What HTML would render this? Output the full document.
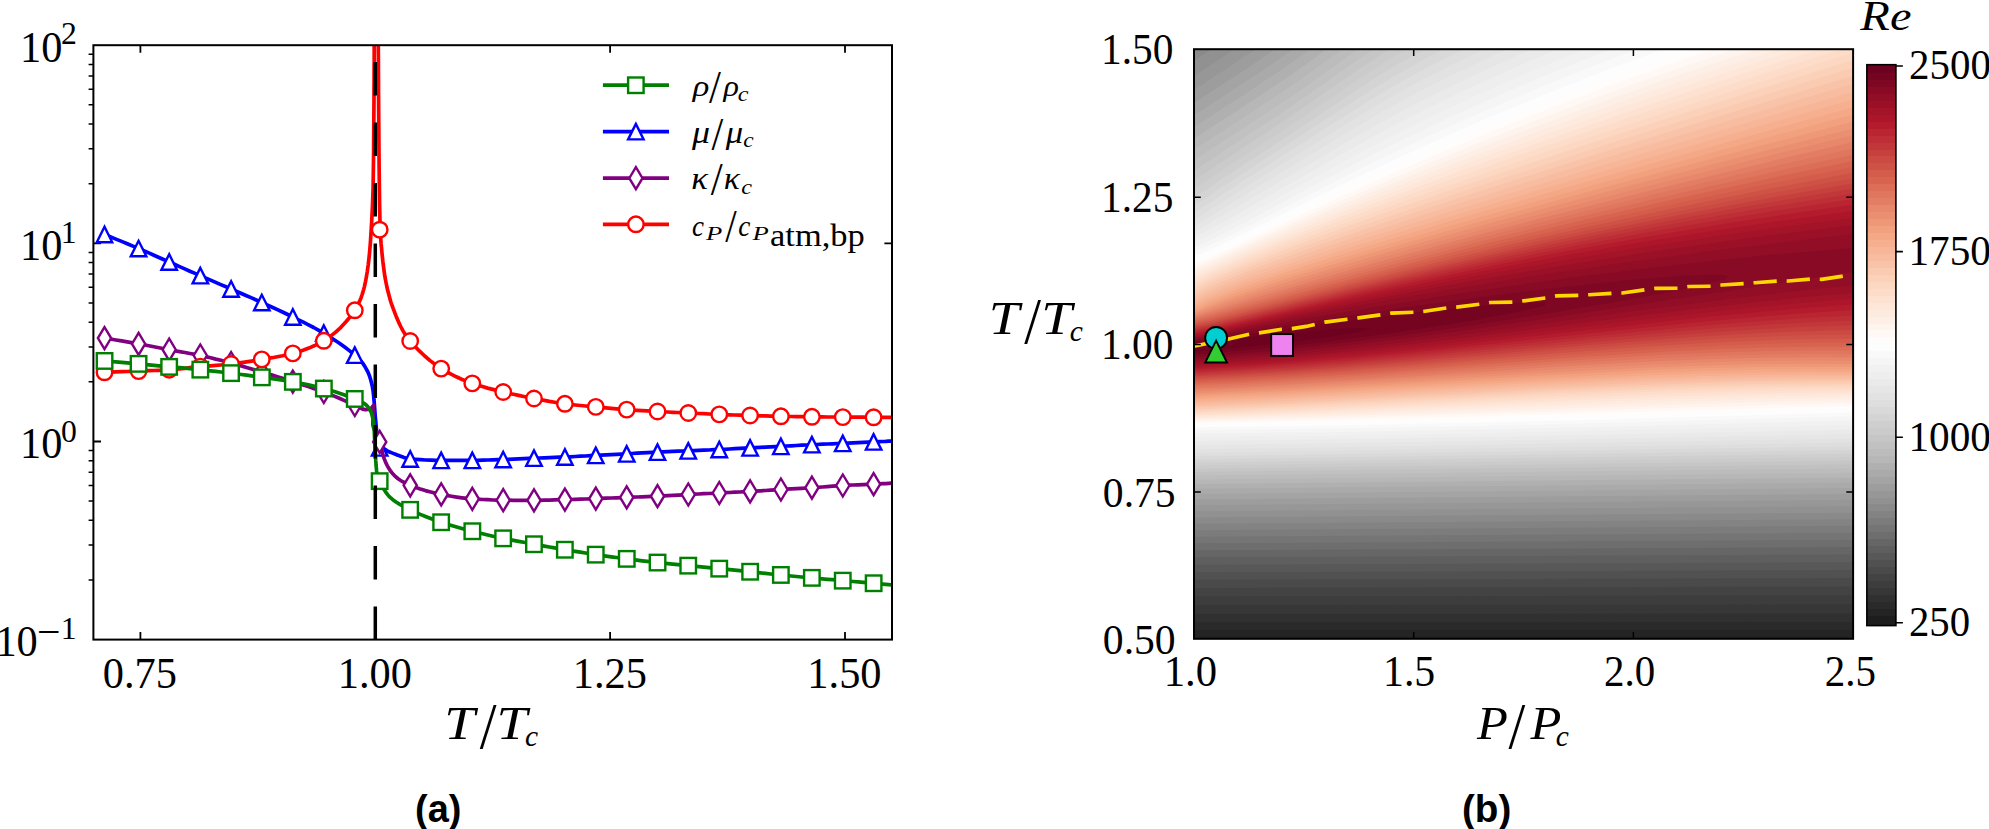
<!DOCTYPE html>
<html><head><meta charset="utf-8"><title>Figure</title>
<style>html,body{margin:0;padding:0;background:#fff}body{width:1989px;height:829px;overflow:hidden}</style></head>
<body>
<svg width="1989" height="829" viewBox="0 0 1989 829" style="display:block">
<rect width="1989" height="829" fill="#fff"/>
<defs><clipPath id="ca"><rect x="93.4" y="45.2" width="798.6" height="594.4"/></clipPath>
<clipPath id="cbp"><rect x="1194.0" y="49.2" width="659.1" height="589.6"/></clipPath>
</defs>
<g stroke="#000" stroke-width="2" fill="none">
<path d="M140.4 639.6v-7.6M140.4 45.2v7.6M375.2 639.6v-7.6M375.2 45.2v7.6M610.1 639.6v-7.6M610.1 45.2v7.6M845.0 639.6v-7.6M845.0 45.2v7.6M93.4 441.5h7.6M892.0 441.5h-7.6M93.4 243.3h7.6M892.0 243.3h-7.6" stroke-width="1.8"/>
<path d="M93.4 580.0h-4.8M93.4 545.1h-4.8M93.4 520.3h-4.8M93.4 501.1h-4.8M93.4 485.4h-4.8M93.4 472.2h-4.8M93.4 460.7h-4.8M93.4 450.5h-4.8M93.4 381.8h-4.8M93.4 346.9h-4.8M93.4 322.2h-4.8M93.4 303.0h-4.8M93.4 287.3h-4.8M93.4 274.0h-4.8M93.4 262.5h-4.8M93.4 252.4h-4.8M93.4 183.7h-4.8M93.4 148.8h-4.8M93.4 124.0h-4.8M93.4 104.8h-4.8M93.4 89.2h-4.8M93.4 75.9h-4.8M93.4 64.4h-4.8M93.4 54.3h-4.8" stroke-width="1.5"/>
</g>
<g clip-path="url(#ca)" fill="none" stroke-width="3.7" stroke-linejoin="round">
<path d="M104.5 234.6 L110.2 236.8 L115.9 239.1 L121.6 241.4 L127.3 243.8 L132.9 246.1 L138.6 248.5 L143.7 250.7 L148.8 252.9 L153.9 255.2 L159.0 257.5 L164.1 259.7 L169.2 262.0 L174.4 264.3 L179.6 266.6 L184.7 268.9 L189.9 271.2 L195.1 273.4 L200.3 275.7 L205.4 277.9 L210.6 280.1 L215.7 282.4 L220.8 284.6 L226.0 286.8 L231.1 289.0 L236.2 291.2 L241.4 293.5 L246.5 295.7 L251.6 297.9 L256.7 300.2 L261.8 302.5 L267.0 304.9 L272.2 307.2 L277.4 309.6 L282.5 312.0 L287.7 314.5 L292.8 317.0 L298.0 319.6 L303.3 322.2 L308.5 324.8 L313.7 327.5 L318.8 330.3 L323.8 333.2 L329.2 336.5 L334.5 340.0 L339.8 343.5 L345.0 347.3 L350.0 351.1 L354.8 355.2 L356.3 356.6 L357.9 358.0 L359.4 359.5 L360.8 361.0 L362.2 362.6 L363.4 364.2 L364.7 366.2 L365.9 368.3 L367.1 370.5 L368.2 372.7 L369.1 374.9 L369.9 377.2 L370.6 379.4 L371.2 381.7 L371.8 384.0 L372.3 386.3 L372.7 388.7 L373.1 391.0 L373.4 393.7 L373.7 396.5 L373.9 399.3 L374.2 402.1 L374.4 404.8 L374.6 407.6 L374.8 410.2 L375.0 412.9 L375.2 415.5 L375.4 418.1 L375.7 420.8 L375.9 423.4 L376.1 425.5 L376.3 427.6 L376.5 429.8 L376.7 431.9 L377.0 433.9 L377.3 436.0 L377.6 437.5 L378.0 439.0 L378.6 440.4 L379.2 441.8 L379.8 443.2 L380.5 444.5 L381.1 445.5 L381.9 446.4 L382.7 447.3 L383.6 448.2 L384.5 449.0 L385.4 449.7 L386.9 450.6 L388.5 451.5 L390.2 452.2 L392.0 452.9 L393.8 453.6 L395.5 454.3 L397.2 455.0 L398.9 455.6 L400.6 456.2 L402.3 456.8 L404.0 457.4 L405.7 457.9 L406.4 458.1 L407.2 458.3 L407.9 458.6 L408.7 458.7 L409.4 458.9 L410.2 459.0 L415.3 459.4 L420.5 459.7 L425.6 460.0 L430.8 460.2 L436.0 460.3 L441.2 460.3 L446.4 460.3 L451.6 460.3 L456.7 460.3 L461.9 460.3 L467.1 460.3 L472.3 460.3 L477.5 460.3 L482.6 460.2 L487.8 460.0 L492.9 459.9 L498.1 459.7 L503.2 459.5 L508.3 459.3 L513.5 459.1 L518.6 458.9 L523.7 458.6 L528.9 458.4 L534.0 458.2 L539.1 458.0 L544.3 457.8 L549.5 457.6 L554.6 457.4 L559.8 457.2 L564.9 457.0 L570.1 456.8 L575.2 456.5 L580.4 456.2 L585.5 456.0 L590.7 455.7 L595.8 455.4 L601.0 455.1 L606.1 454.9 L611.3 454.6 L616.4 454.3 L621.6 454.1 L626.7 453.8 L631.8 453.5 L637.0 453.2 L642.1 452.9 L647.2 452.6 L652.4 452.4 L657.5 452.1 L662.6 451.9 L667.8 451.6 L672.9 451.4 L678.0 451.2 L683.2 451.0 L688.3 450.8 L693.5 450.6 L698.6 450.4 L703.8 450.2 L709.0 450.0 L714.1 449.7 L719.3 449.5 L724.4 449.3 L729.6 449.0 L734.7 448.7 L739.8 448.4 L745.0 448.2 L750.1 447.9 L755.2 447.6 L760.4 447.4 L765.5 447.1 L770.6 446.8 L775.8 446.6 L780.9 446.3 L786.1 446.0 L791.2 445.8 L796.4 445.5 L801.6 445.2 L806.7 445.0 L811.9 444.7 L817.0 444.5 L822.2 444.2 L827.3 444.0 L832.5 443.8 L837.6 443.5 L842.8 443.3 L847.9 443.1 L853.1 442.8 L858.2 442.6 L863.3 442.4 L868.5 442.1 L873.6 441.9 L876.6 441.8 L879.7 441.6 L882.7 441.5 L885.7 441.4 L888.8 441.2 L891.8 441.1" stroke="#0000ff"/>
<g fill="#fff" stroke="#0000ff" stroke-width="2.40" stroke-linejoin="miter">
<path d="M104.5 226.8L96.8 242.3L112.2 242.3Z"/>
<path d="M138.6 240.8L130.8 256.2L146.3 256.2Z"/>
<path d="M169.2 254.2L161.4 269.8L176.9 269.8Z"/>
<path d="M200.3 267.9L192.6 283.4L208.1 283.4Z"/>
<path d="M231.1 281.2L223.3 296.8L238.8 296.8Z"/>
<path d="M261.8 294.8L254.1 310.2L269.6 310.2Z"/>
<path d="M292.8 309.2L285.1 324.8L300.6 324.8Z"/>
<path d="M323.8 325.4L316.1 340.9L331.6 340.9Z"/>
<path d="M354.8 347.4L347.0 362.9L362.5 362.9Z"/>
<path d="M379.7 440.1L371.9 455.6L387.4 455.6Z"/>
<path d="M410.2 451.2L402.4 466.8L417.9 466.8Z"/>
<path d="M441.2 452.6L433.4 468.1L448.9 468.1Z"/>
<path d="M472.3 452.6L464.6 468.1L480.1 468.1Z"/>
<path d="M503.2 451.8L495.4 467.2L510.9 467.2Z"/>
<path d="M534.0 450.4L526.2 465.9L541.8 465.9Z"/>
<path d="M564.9 449.2L557.1 464.8L572.6 464.8Z"/>
<path d="M595.8 447.6L588.0 463.1L603.5 463.1Z"/>
<path d="M626.7 446.1L619.0 461.6L634.5 461.6Z"/>
<path d="M657.5 444.4L649.8 459.9L665.2 459.9Z"/>
<path d="M688.3 443.1L680.5 458.6L696.0 458.6Z"/>
<path d="M719.3 441.8L711.5 457.2L727.0 457.2Z"/>
<path d="M750.1 440.1L742.4 455.6L757.9 455.6Z"/>
<path d="M780.9 438.6L773.1 454.1L788.6 454.1Z"/>
<path d="M811.9 436.9L804.1 452.4L819.6 452.4Z"/>
<path d="M842.8 435.6L835.0 451.1L850.5 451.1Z"/>
<path d="M873.6 434.1L865.9 449.6L881.4 449.6Z"/>
</g>
<path d="M104.5 338.1 L110.2 339.0 L115.9 340.0 L121.6 340.9 L127.2 341.9 L132.9 342.9 L138.6 343.9 L143.7 344.8 L148.8 345.8 L153.9 346.8 L159.0 347.8 L164.1 348.7 L169.2 349.7 L174.4 350.7 L179.6 351.6 L184.8 352.5 L190.0 353.5 L195.1 354.4 L200.3 355.5 L205.5 356.6 L210.6 357.8 L215.7 359.1 L220.9 360.3 L226.0 361.7 L231.1 363.0 L236.2 364.4 L241.4 365.9 L246.5 367.4 L251.6 368.9 L256.7 370.5 L261.8 372.0 L267.0 373.6 L272.2 375.1 L277.3 376.7 L282.5 378.3 L287.6 380.0 L292.8 381.6 L298.0 383.3 L303.2 384.9 L308.4 386.6 L313.5 388.4 L318.7 390.1 L323.8 392.0 L329.0 394.0 L334.2 396.1 L339.3 398.3 L344.5 400.6 L349.6 402.8 L354.8 405.0 L356.5 405.9 L358.3 406.9 L360.1 407.9 L361.8 408.7 L363.7 409.4 L365.5 409.6 L366.3 409.6 L367.1 409.5 L368.0 409.4 L368.8 409.3 L369.6 409.2 L370.3 409.0 L371.0 408.6 L371.7 407.9 L372.4 407.0 L373.0 406.2 L373.4 405.5 L373.6 405.3 L373.6 405.6 L373.5 406.5 L373.3 407.8 L373.2 409.3 L373.1 410.7 L373.0 412.0 L373.0 414.0 L372.9 416.0 L372.9 418.0 L372.9 420.0 L372.9 422.0 L372.9 424.0 L373.0 425.4 L373.3 426.7 L373.7 428.0 L374.2 429.4 L374.7 430.7 L375.2 432.0 L375.9 433.6 L376.6 435.2 L377.5 436.8 L378.3 438.4 L379.1 440.0 L379.7 441.6 L380.3 443.8 L380.9 446.0 L381.4 448.3 L381.9 450.5 L382.4 452.8 L383.0 455.0 L383.7 457.1 L384.4 459.1 L385.2 461.2 L386.1 463.2 L387.0 465.1 L388.0 467.0 L389.1 468.8 L390.3 470.6 L391.6 472.4 L393.0 474.0 L394.5 475.6 L396.0 477.0 L398.1 478.7 L400.3 480.2 L402.7 481.7 L405.2 483.0 L407.7 484.2 L410.2 485.3 L415.1 487.2 L420.2 489.0 L425.4 490.6 L430.7 492.0 L435.9 493.3 L441.2 494.4 L446.3 495.4 L451.5 496.3 L456.7 497.1 L461.9 497.8 L467.1 498.4 L472.3 498.8 L477.4 499.1 L482.6 499.5 L487.7 499.7 L492.9 500.0 L498.0 500.1 L503.2 500.2 L508.3 500.2 L513.5 500.3 L518.6 500.3 L523.7 500.3 L528.9 500.3 L534.0 500.3 L539.2 500.3 L544.3 500.2 L549.5 500.1 L554.6 499.9 L559.8 499.7 L564.9 499.6 L570.1 499.5 L575.2 499.3 L580.4 499.1 L585.5 499.0 L590.7 498.8 L595.8 498.6 L601.0 498.4 L606.1 498.2 L611.3 498.0 L616.4 497.8 L621.6 497.6 L626.7 497.4 L631.8 497.2 L637.0 497.0 L642.1 496.8 L647.2 496.6 L652.4 496.4 L657.5 496.2 L662.6 495.9 L667.8 495.7 L672.9 495.4 L678.0 495.1 L683.2 494.8 L688.3 494.5 L693.5 494.2 L698.6 494.0 L703.8 493.7 L709.0 493.5 L714.1 493.3 L719.3 493.0 L724.4 492.7 L729.6 492.5 L734.7 492.2 L739.8 492.0 L745.0 491.7 L750.1 491.4 L755.2 491.1 L760.4 490.8 L765.5 490.5 L770.6 490.1 L775.8 489.8 L780.9 489.5 L786.1 489.2 L791.2 488.9 L796.4 488.6 L801.6 488.3 L806.7 488.0 L811.9 487.7 L817.1 487.3 L822.2 487.0 L827.3 486.6 L832.5 486.2 L837.6 485.8 L842.8 485.5 L847.9 485.2 L853.1 485.0 L858.2 484.8 L863.3 484.6 L868.5 484.4 L873.6 484.2 L876.6 484.0 L879.7 483.9 L882.7 483.7 L885.7 483.6 L888.8 483.4 L891.8 483.2" stroke="#800080"/>
<g fill="#fff" stroke="#800080" stroke-width="2.40" stroke-linejoin="miter">
<path d="M104.5 327.1L111.1 338.1L104.5 349.1L97.9 338.1Z"/>
<path d="M138.6 332.9L145.2 343.9L138.6 354.9L132.0 343.9Z"/>
<path d="M169.2 338.7L175.8 349.7L169.2 360.7L162.6 349.7Z"/>
<path d="M200.3 344.5L206.9 355.5L200.3 366.5L193.7 355.5Z"/>
<path d="M231.1 352.0L237.7 363.0L231.1 374.0L224.5 363.0Z"/>
<path d="M261.8 361.0L268.4 372.0L261.8 383.0L255.2 372.0Z"/>
<path d="M292.8 370.6L299.4 381.6L292.8 392.6L286.2 381.6Z"/>
<path d="M323.8 381.0L330.4 392.0L323.8 403.0L317.2 392.0Z"/>
<path d="M354.8 394.0L361.3 405.0L354.8 416.0L348.2 405.0Z"/>
<path d="M379.7 430.9L386.3 441.9L379.7 452.9L373.1 441.9Z"/>
<path d="M410.2 474.3L416.8 485.3L410.2 496.3L403.6 485.3Z"/>
<path d="M441.2 483.4L447.8 494.4L441.2 505.4L434.6 494.4Z"/>
<path d="M472.3 487.8L478.9 498.8L472.3 509.8L465.7 498.8Z"/>
<path d="M503.2 489.2L509.8 500.2L503.2 511.2L496.6 500.2Z"/>
<path d="M534.0 489.3L540.6 500.3L534.0 511.3L527.4 500.3Z"/>
<path d="M564.9 488.6L571.5 499.6L564.9 510.6L558.3 499.6Z"/>
<path d="M595.8 487.6L602.4 498.6L595.8 509.6L589.2 498.6Z"/>
<path d="M626.7 486.4L633.3 497.4L626.7 508.4L620.1 497.4Z"/>
<path d="M657.5 485.2L664.1 496.2L657.5 507.2L650.9 496.2Z"/>
<path d="M688.3 483.5L694.9 494.5L688.3 505.5L681.7 494.5Z"/>
<path d="M719.3 482.0L725.9 493.0L719.3 504.0L712.7 493.0Z"/>
<path d="M750.1 480.4L756.7 491.4L750.1 502.4L743.5 491.4Z"/>
<path d="M780.9 478.5L787.5 489.5L780.9 500.5L774.3 489.5Z"/>
<path d="M811.9 476.7L818.5 487.7L811.9 498.7L805.3 487.7Z"/>
<path d="M842.8 474.5L849.4 485.5L842.8 496.5L836.2 485.5Z"/>
<path d="M873.6 473.2L880.2 484.2L873.6 495.2L867.0 484.2Z"/>
</g>
<path d="M104.5 372.3 L110.2 372.1 L115.9 371.9 L121.6 371.7 L127.2 371.5 L132.9 371.3 L138.6 371.1 L143.7 370.9 L148.8 370.7 L153.9 370.5 L159.0 370.3 L164.1 370.0 L169.2 369.7 L174.4 369.3 L179.6 368.8 L184.8 368.3 L189.9 367.7 L195.1 367.1 L200.3 366.6 L205.4 366.2 L210.6 365.8 L215.7 365.4 L220.8 365.0 L226.0 364.5 L231.1 364.0 L236.2 363.4 L241.4 362.7 L246.5 361.9 L251.6 361.1 L256.7 360.3 L261.8 359.4 L267.0 358.5 L272.2 357.7 L277.4 356.7 L282.6 355.7 L287.7 354.6 L292.8 353.4 L298.2 351.9 L303.6 350.1 L308.9 348.1 L314.1 345.8 L319.1 343.4 L323.8 340.8 L329.6 336.9 L335.4 332.4 L340.9 327.3 L346.0 321.8 L350.7 316.1 L354.8 310.3 L356.2 308.0 L357.5 305.5 L358.8 302.9 L360.0 300.3 L361.1 297.7 L362.0 295.0 L362.8 292.4 L363.6 289.8 L364.3 287.1 L364.9 284.4 L365.5 281.7 L366.0 279.0 L366.6 275.5 L367.2 272.0 L367.7 268.5 L368.2 265.0 L368.6 261.5 L369.0 258.0 L369.5 253.3 L369.9 248.6 L370.3 243.9 L370.6 239.1 L370.9 234.4 L371.2 229.7 L371.7 221.4 L372.1 213.1 L372.5 204.9 L372.8 196.6 L373.1 188.3 L373.2 180.0 L373.4 166.7 L373.6 153.3 L373.7 140.0 L373.8 126.7 L373.9 113.3 L374.0 100.0 L374.0 90.0 L374.1 80.0 L374.1 70.0 L374.2 60.0 L374.2 50.0 L374.2 40.0" stroke="#ff0000"/>
<path d="M378.3 40.0 L378.3 50.0 L378.4 60.0 L378.4 70.0 L378.5 80.0 L378.5 90.0 L378.6 100.0 L378.7 113.3 L378.8 126.7 L378.9 140.0 L379.0 153.3 L379.1 166.7 L379.3 180.0 L379.4 188.3 L379.5 196.6 L379.6 204.9 L379.8 213.1 L380.0 221.4 L380.2 229.7 L380.5 234.4 L380.8 239.1 L381.1 243.9 L381.6 248.6 L382.0 253.3 L382.5 258.0 L382.9 261.8 L383.4 265.7 L383.9 269.5 L384.4 273.4 L385.0 277.2 L385.7 281.0 L386.3 284.0 L386.9 287.0 L387.6 290.1 L388.4 293.1 L389.2 296.0 L390.0 299.0 L390.7 301.5 L391.5 303.9 L392.4 306.4 L393.3 308.8 L394.2 311.2 L395.1 313.6 L396.1 316.2 L397.2 318.8 L398.3 321.4 L399.5 324.0 L400.7 326.5 L402.0 329.0 L403.2 331.1 L404.5 333.2 L405.8 335.2 L407.2 337.2 L408.7 339.1 L410.2 341.0 L414.7 346.1 L419.6 351.2 L424.7 356.0 L430.1 360.6 L435.6 364.8 L441.2 368.6 L446.0 371.5 L451.1 374.2 L456.3 376.8 L461.6 379.2 L466.9 381.4 L472.3 383.4 L477.3 385.1 L482.4 386.6 L487.6 388.1 L492.8 389.4 L498.0 390.7 L503.2 392.0 L508.3 393.2 L513.4 394.3 L518.6 395.4 L523.7 396.5 L528.8 397.5 L534.0 398.5 L539.1 399.5 L544.3 400.4 L549.4 401.4 L554.6 402.3 L559.7 403.1 L564.9 403.8 L570.0 404.4 L575.2 405.0 L580.3 405.5 L585.5 406.0 L590.6 406.4 L595.8 406.9 L600.9 407.4 L606.1 407.9 L611.2 408.3 L616.4 408.8 L621.5 409.2 L626.7 409.6 L631.8 410.0 L637.0 410.3 L642.1 410.6 L647.2 410.9 L652.4 411.2 L657.5 411.5 L662.6 411.8 L667.8 412.0 L672.9 412.3 L678.0 412.5 L683.2 412.8 L688.3 413.0 L693.5 413.2 L698.6 413.5 L703.8 413.7 L709.0 414.0 L714.1 414.2 L719.3 414.4 L724.4 414.6 L729.6 414.8 L734.7 415.0 L739.8 415.2 L745.0 415.3 L750.1 415.5 L755.2 415.7 L760.4 415.8 L765.5 415.9 L770.6 416.1 L775.8 416.2 L780.9 416.3 L786.1 416.4 L791.2 416.5 L796.4 416.6 L801.6 416.7 L806.7 416.7 L811.9 416.8 L817.0 416.9 L822.2 416.9 L827.3 417.0 L832.5 417.0 L837.6 417.1 L842.8 417.1 L847.9 417.1 L853.1 417.2 L858.2 417.2 L863.3 417.2 L868.5 417.3 L873.6 417.3 L876.6 417.3 L879.7 417.3 L882.7 417.4 L885.7 417.4 L888.8 417.4 L891.8 417.4" stroke="#ff0000"/>
<g fill="#fff" stroke="#ff0000" stroke-width="2.40" stroke-linejoin="miter">
<circle cx="104.5" cy="372.3" r="7.75"/>
<circle cx="138.6" cy="371.1" r="7.75"/>
<circle cx="169.2" cy="369.7" r="7.75"/>
<circle cx="200.3" cy="366.6" r="7.75"/>
<circle cx="231.1" cy="364.0" r="7.75"/>
<circle cx="261.8" cy="359.4" r="7.75"/>
<circle cx="292.8" cy="353.4" r="7.75"/>
<circle cx="323.8" cy="340.8" r="7.75"/>
<circle cx="354.8" cy="310.3" r="7.75"/>
<circle cx="379.7" cy="229.7" r="7.75"/>
<circle cx="410.2" cy="341.0" r="7.75"/>
<circle cx="441.2" cy="368.6" r="7.75"/>
<circle cx="472.3" cy="383.4" r="7.75"/>
<circle cx="503.2" cy="392.0" r="7.75"/>
<circle cx="534.0" cy="398.5" r="7.75"/>
<circle cx="564.9" cy="403.8" r="7.75"/>
<circle cx="595.8" cy="406.9" r="7.75"/>
<circle cx="626.7" cy="409.6" r="7.75"/>
<circle cx="657.5" cy="411.5" r="7.75"/>
<circle cx="688.3" cy="413.0" r="7.75"/>
<circle cx="719.3" cy="414.4" r="7.75"/>
<circle cx="750.1" cy="415.5" r="7.75"/>
<circle cx="780.9" cy="416.3" r="7.75"/>
<circle cx="811.9" cy="416.8" r="7.75"/>
<circle cx="842.8" cy="417.1" r="7.75"/>
<circle cx="873.6" cy="417.3" r="7.75"/>
</g>
<path d="M104.5 361.0 L110.2 361.5 L115.9 361.9 L121.6 362.4 L127.2 362.9 L132.9 363.4 L138.6 363.9 L143.7 364.4 L148.8 364.8 L153.9 365.3 L159.0 365.8 L164.1 366.3 L169.2 366.8 L174.4 367.3 L179.6 367.7 L184.8 368.2 L189.9 368.7 L195.1 369.2 L200.3 369.7 L205.4 370.2 L210.6 370.8 L215.7 371.4 L220.8 372.0 L226.0 372.6 L231.1 373.2 L236.2 373.8 L241.3 374.5 L246.5 375.2 L251.6 375.9 L256.7 376.6 L261.8 377.3 L267.0 378.0 L272.2 378.7 L277.3 379.4 L282.5 380.2 L287.7 380.9 L292.8 381.8 L298.0 382.7 L303.2 383.7 L308.4 384.8 L313.6 386.0 L318.7 387.2 L323.8 388.5 L329.0 390.0 L334.3 391.5 L339.5 393.2 L344.6 395.0 L349.7 397.0 L354.8 399.0 L356.6 399.8 L358.5 400.6 L360.4 401.4 L362.3 402.3 L364.0 403.3 L365.5 404.4 L366.6 405.4 L367.7 406.6 L368.7 407.9 L369.6 409.2 L370.4 410.6 L371.0 412.0 L371.6 413.7 L372.1 415.5 L372.6 417.4 L373.0 419.2 L373.4 421.1 L373.6 423.0 L373.9 425.8 L374.1 428.6 L374.3 431.5 L374.4 434.3 L374.5 437.2 L374.7 440.0 L374.9 443.0 L375.0 446.0 L375.1 449.0 L375.3 452.0 L375.4 455.0 L375.6 458.0 L375.7 460.2 L375.9 462.4 L376.0 464.5 L376.2 466.7 L376.4 468.9 L376.6 471.0 L376.9 472.7 L377.3 474.5 L377.8 476.2 L378.4 477.9 L379.1 479.6 L379.7 481.2 L380.2 482.5 L380.8 483.7 L381.4 484.9 L382.1 486.1 L382.8 487.3 L383.5 488.5 L384.4 490.0 L385.4 491.6 L386.5 493.1 L387.6 494.6 L388.7 495.9 L389.9 497.2 L392.8 499.7 L396.0 502.0 L399.4 504.1 L403.0 506.1 L406.6 508.0 L410.2 509.8 L415.2 512.2 L420.3 514.4 L425.5 516.5 L430.7 518.5 L435.9 520.4 L441.2 522.2 L446.3 523.9 L451.5 525.5 L456.7 527.0 L461.9 528.5 L467.1 529.9 L472.3 531.3 L477.4 532.6 L482.6 533.8 L487.7 535.0 L492.9 536.2 L498.0 537.3 L503.2 538.4 L508.3 539.4 L513.4 540.4 L518.6 541.4 L523.7 542.3 L528.9 543.3 L534.0 544.2 L539.1 545.1 L544.3 546.1 L549.4 547.0 L554.6 547.9 L559.7 548.8 L564.9 549.7 L570.0 550.6 L575.2 551.4 L580.3 552.2 L585.5 553.0 L590.6 553.8 L595.8 554.6 L600.9 555.4 L606.1 556.1 L611.2 556.8 L616.4 557.5 L621.5 558.2 L626.7 558.9 L631.8 559.5 L637.0 560.2 L642.1 560.8 L647.2 561.4 L652.4 561.9 L657.5 562.5 L662.6 563.0 L667.8 563.6 L672.9 564.1 L678.0 564.6 L683.2 565.1 L688.3 565.6 L693.5 566.1 L698.6 566.6 L703.8 567.1 L709.0 567.6 L714.1 568.1 L719.3 568.6 L724.4 569.1 L729.6 569.7 L734.7 570.2 L739.8 570.7 L745.0 571.3 L750.1 571.8 L755.2 572.3 L760.4 572.9 L765.5 573.4 L770.6 574.0 L775.8 574.5 L780.9 575.0 L786.1 575.5 L791.2 576.0 L796.4 576.5 L801.6 577.0 L806.7 577.4 L811.9 577.9 L817.0 578.4 L822.2 578.8 L827.3 579.3 L832.5 579.7 L837.6 580.2 L842.8 580.6 L847.9 581.0 L853.1 581.5 L858.2 581.9 L863.3 582.3 L868.5 582.7 L873.6 583.2 L876.6 583.5 L879.7 583.8 L882.7 584.1 L885.7 584.4 L888.8 584.7 L891.8 585.0" stroke="#008000"/>
<g fill="#fff" stroke="#008000" stroke-width="2.40" stroke-linejoin="miter">
<rect x="96.8" y="353.2" width="15.5" height="15.5"/>
<rect x="130.8" y="356.1" width="15.5" height="15.5"/>
<rect x="161.4" y="359.1" width="15.5" height="15.5"/>
<rect x="192.6" y="361.9" width="15.5" height="15.5"/>
<rect x="223.3" y="365.4" width="15.5" height="15.5"/>
<rect x="254.1" y="369.6" width="15.5" height="15.5"/>
<rect x="285.1" y="374.1" width="15.5" height="15.5"/>
<rect x="316.1" y="380.8" width="15.5" height="15.5"/>
<rect x="347.0" y="391.2" width="15.5" height="15.5"/>
<rect x="371.9" y="473.4" width="15.5" height="15.5"/>
<rect x="402.4" y="502.1" width="15.5" height="15.5"/>
<rect x="433.4" y="514.5" width="15.5" height="15.5"/>
<rect x="464.6" y="523.5" width="15.5" height="15.5"/>
<rect x="495.4" y="530.6" width="15.5" height="15.5"/>
<rect x="526.2" y="536.5" width="15.5" height="15.5"/>
<rect x="557.1" y="542.0" width="15.5" height="15.5"/>
<rect x="588.0" y="546.9" width="15.5" height="15.5"/>
<rect x="619.0" y="551.1" width="15.5" height="15.5"/>
<rect x="649.8" y="554.8" width="15.5" height="15.5"/>
<rect x="680.5" y="557.9" width="15.5" height="15.5"/>
<rect x="711.5" y="560.9" width="15.5" height="15.5"/>
<rect x="742.4" y="564.0" width="15.5" height="15.5"/>
<rect x="773.1" y="567.2" width="15.5" height="15.5"/>
<rect x="804.1" y="570.1" width="15.5" height="15.5"/>
<rect x="835.0" y="572.9" width="15.5" height="15.5"/>
<rect x="865.9" y="575.5" width="15.5" height="15.5"/>
</g>
<line x1="375.3" y1="640.0" x2="375.3" y2="45.2" stroke="#000" stroke-width="3.5" stroke-dasharray="33.5 27"/>
</g>
<rect x="93.4" y="45.2" width="798.6" height="594.4" fill="none" stroke="#000" stroke-width="2"/>
<g fill="#000">
<text transform="matrix(0.4241 0 0 0.4397 102.74 687.62)" font-family="'Liberation Serif',serif" font-size="100">0.75</text>
<text transform="matrix(0.4241 0 0 0.4397 337.78 687.62)" font-family="'Liberation Serif',serif" font-size="100">1.00</text>
<text transform="matrix(0.4241 0 0 0.4397 572.68 688.06)" font-family="'Liberation Serif',serif" font-size="100">1.25</text>
<text transform="matrix(0.4241 0 0 0.4397 807.33 687.62)" font-family="'Liberation Serif',serif" font-size="100">1.50</text>
<text transform="matrix(0.4241 0 0 0.4397 20.08 62.02)" font-family="'Liberation Serif',serif" font-size="100">10</text>
<text transform="matrix(0.3171 0 0 0.3179 60.93 44.48)" font-family="'Liberation Serif',serif" font-size="100">2</text>
<text transform="matrix(0.4241 0 0 0.4397 20.08 260.15)" font-family="'Liberation Serif',serif" font-size="100">10</text>
<text transform="matrix(0.3171 0 0 0.3179 60.75 243.13)" font-family="'Liberation Serif',serif" font-size="100">1</text>
<text transform="matrix(0.4241 0 0 0.4397 20.08 458.29)" font-family="'Liberation Serif',serif" font-size="100">10</text>
<text transform="matrix(0.3171 0 0 0.3179 60.93 442.03)" font-family="'Liberation Serif',serif" font-size="100">0</text>
<text transform="matrix(0.4241 0 0 0.4397 -4.62 656.42)" font-family="'Liberation Serif',serif" font-size="100">10</text>
<text transform="matrix(0.3171 0 0 0.3179 60.75 639.40)" font-family="'Liberation Serif',serif" font-size="100">1</text>
<text transform="matrix(0.4170 0 0 0.4000 37.11 645.00)" font-family="'Liberation Serif',serif" font-size="100">−</text>
<text transform="matrix(0.5519 0 0 0.4662 444.14 739.20)" font-family="'Liberation Serif',serif" font-size="100" font-style="italic">T</text><text transform="matrix(0.6036 0 0 0.6627 479.70 748.47)" font-family="'Liberation Serif',serif" font-size="100">/</text><text transform="matrix(0.5519 0 0 0.4662 496.54 739.20)" font-family="'Liberation Serif',serif" font-size="100" font-style="italic">T</text><text transform="matrix(0.2950 0 0 0.2896 525.12 745.91)" font-family="'Liberation Serif',serif" font-size="100" font-style="italic">c</text>
<text transform="matrix(0.5519 0 0 0.4662 988.74 333.80)" font-family="'Liberation Serif',serif" font-size="100" font-style="italic">T</text><text transform="matrix(0.6036 0 0 0.6627 1024.30 343.07)" font-family="'Liberation Serif',serif" font-size="100">/</text><text transform="matrix(0.5519 0 0 0.4662 1041.14 333.80)" font-family="'Liberation Serif',serif" font-size="100" font-style="italic">T</text><text transform="matrix(0.2950 0 0 0.2896 1069.71 340.51)" font-family="'Liberation Serif',serif" font-size="100" font-style="italic">c</text>
<text transform="matrix(0.5051 0 0 0.4591 1476.90 738.54)" font-family="'Liberation Serif',serif" font-size="100" font-style="italic">P</text><text transform="matrix(0.6036 0 0 0.6627 1508.60 748.27)" font-family="'Liberation Serif',serif" font-size="100">/</text><text transform="matrix(0.5051 0 0 0.4591 1530.50 738.54)" font-family="'Liberation Serif',serif" font-size="100" font-style="italic">P</text><text transform="matrix(0.2950 0 0 0.2896 1555.82 745.71)" font-family="'Liberation Serif',serif" font-size="100" font-style="italic">c</text>
</g>
<text transform="matrix(0.3795 0 0 0.3909 415.00 821.90)" font-family="'Liberation Sans',sans-serif" font-size="100" font-weight="bold">(a)</text>
<text transform="matrix(0.3864 0 0 0.3909 1461.97 821.90)" font-family="'Liberation Sans',sans-serif" font-size="100" font-weight="bold">(b)</text>
<g fill="none" stroke-width="3.7">
<path d="M602.9 85.2H669.0" stroke="#008000"/>
<g fill="#fff" stroke="#008000" stroke-width="2.40"><rect x="628.1" y="77.5" width="15.5" height="15.5"/></g>
<path d="M602.9 131.7H669.0" stroke="#0000ff"/>
<g fill="#fff" stroke="#0000ff" stroke-width="2.40"><path d="M635.9 123.9L628.1 139.4L643.6 139.4Z"/></g>
<path d="M602.9 178.2H669.0" stroke="#800080"/>
<g fill="#fff" stroke="#800080" stroke-width="2.40"><path d="M635.9 167.2L642.5 178.2L635.9 189.2L629.3 178.2Z"/></g>
<path d="M602.9 224.3H669.0" stroke="#ff0000"/>
<g fill="#fff" stroke="#ff0000" stroke-width="2.40"><circle cx="635.9" cy="224.3" r="7.75"/></g>
</g>
<g fill="#000">
<text transform="matrix(0.3447 0 0 0.3015 692.79 96.47)" font-family="'Liberation Serif',serif" font-size="100" font-style="italic">ρ</text>
<text transform="matrix(0.4286 0 0 0.4672 709.00 103.07)" font-family="'Liberation Serif',serif" font-size="100">/</text>
<text transform="matrix(0.3213 0 0 0.3015 723.44 96.47)" font-family="'Liberation Serif',serif" font-size="100" font-style="italic">ρ</text>
<text transform="matrix(0.2425 0 0 0.2125 737.77 100.79)" font-family="'Liberation Serif',serif" font-size="100" font-style="italic">c</text>
<text transform="matrix(0.3596 0 0 0.3149 692.10 143.29)" font-family="'Liberation Serif',serif" font-size="100" font-style="italic">μ</text>
<text transform="matrix(0.4214 0 0 0.4597 711.60 149.58)" font-family="'Liberation Serif',serif" font-size="100">/</text>
<text transform="matrix(0.3468 0 0 0.3149 725.80 143.29)" font-family="'Liberation Serif',serif" font-size="100" font-style="italic">μ</text>
<text transform="matrix(0.2350 0 0 0.2146 743.19 147.29)" font-family="'Liberation Serif',serif" font-size="100" font-style="italic">c</text>
<text transform="matrix(0.3467 0 0 0.3065 691.31 189.40)" font-family="'Liberation Serif',serif" font-size="100" font-style="italic">κ</text>
<text transform="matrix(0.4286 0 0 0.4582 710.80 195.48)" font-family="'Liberation Serif',serif" font-size="100">/</text>
<text transform="matrix(0.3356 0 0 0.3065 723.86 189.40)" font-family="'Liberation Serif',serif" font-size="100" font-style="italic">κ</text>
<text transform="matrix(0.2425 0 0 0.2104 741.37 193.69)" font-family="'Liberation Serif',serif" font-size="100" font-style="italic">c</text>
<text transform="matrix(0.2700 0 0 0.2937 691.89 235.61)" font-family="'Liberation Serif',serif" font-size="100" font-style="italic">c</text>
<text transform="matrix(0.2661 0 0 0.1924 705.90 239.71)" font-family="'Liberation Serif',serif" font-size="100" font-style="italic">P</text>
<text transform="matrix(0.4107 0 0 0.4567 725.20 242.19)" font-family="'Liberation Serif',serif" font-size="100">/</text>
<text transform="matrix(0.2725 0 0 0.2937 738.28 235.61)" font-family="'Liberation Serif',serif" font-size="100" font-style="italic">c</text>
<text transform="matrix(0.2661 0 0 0.1924 752.40 239.71)" font-family="'Liberation Serif',serif" font-size="100" font-style="italic">P</text>
<text transform="matrix(0.3444 0 0 0.3111 770.07 246.27)" font-family="'Liberation Serif',serif" font-size="100">atm,bp</text>
</g>
<g clip-path="url(#cbp)" fill-rule="evenodd"><rect x="1192.0" y="47.2" width="663.1" height="593.6" fill="#1d1d1d"/><path fill="#242424" d="M1185.2 637.5L1861.9 637.6L1861.9 37.4L1185.2 37.4Z"/><path fill="#2a2a2a" d="M1185.2 630.1L1861.9 630.1L1861.9 37.4L1185.2 37.4Z"/><path fill="#303030" d="M1185.2 622.2L1861.9 622.1L1861.9 37.4L1185.2 37.4Z"/><path fill="#373737" d="M1185.2 613.8L1861.9 613.5L1861.9 37.4L1185.2 37.4Z"/><path fill="#3d3d3d" d="M1185.2 605.1L1861.9 604.5L1861.9 37.4L1185.2 37.4Z"/><path fill="#434343" d="M1185.2 596.4L1861.9 595.4L1861.9 37.4L1185.2 37.4Z"/><path fill="#4a4a4a" d="M1185.2 587.9L1861.9 586.5L1861.9 37.4L1185.2 37.4Z"/><path fill="#515151" d="M1185.2 579.8L1861.9 578.1L1861.9 37.4L1185.2 37.4Z"/><path fill="#585858" d="M1185.2 572.2L1861.9 570.1L1861.9 37.4L1185.2 37.4Z"/><path fill="#5f5f5f" d="M1185.2 564.7L1861.9 562.2L1861.9 37.4L1185.2 37.4Z"/><path fill="#666666" d="M1185.2 557.4L1861.9 554.5L1861.9 37.4L1185.2 37.4Z"/><path fill="#6e6e6e" d="M1185.2 550.3L1861.9 547.0L1861.9 37.4L1185.2 37.4Z"/><path fill="#757575" d="M1185.2 543.4L1861.9 539.7L1861.9 37.4L1185.2 37.4Z"/><path fill="#7c7c7c" d="M1185.2 536.7L1861.9 532.7L1861.9 37.4L1185.2 37.4Z"/><path fill="#838383" d="M1185.2 530.2L1861.9 525.8L1861.9 37.4L1185.2 37.4Z"/><path fill="#8a8a8a" d="M1185.2 523.8L1861.9 519.1L1861.9 37.4L1198.4 37.4L1194.0 43.3L1185.2 43.3Z"/><path fill="#919191" d="M1185.2 517.6L1861.9 512.6L1861.9 37.4L1229.0 37.4L1194.0 60.7L1185.2 60.7Z"/><path fill="#979797" d="M1185.2 511.3L1861.9 506.1L1861.9 37.4L1252.3 37.4L1194.0 76.0L1185.2 76.0Z"/><path fill="#9d9d9d" d="M1185.2 505.3L1861.9 499.8L1861.9 37.4L1273.3 37.4L1233.7 63.9L1194.0 90.0L1185.2 90.0Z"/><path fill="#a4a4a4" d="M1185.2 499.5L1861.9 493.8L1861.9 37.4L1292.6 37.4L1249.1 66.9L1194.0 103.0L1185.2 103.0Z"/><path fill="#aaaaaa" d="M1185.2 494.0L1861.9 488.0L1861.9 37.4L1310.2 37.4L1289.5 52.1L1267.8 66.9L1194.0 115.3L1185.2 115.3Z"/><path fill="#b0b0b0" d="M1185.2 488.9L1861.9 482.5L1861.9 37.4L1326.8 37.4L1301.7 55.7L1281.9 69.4L1241.3 96.4L1194.0 127.0L1185.2 127.0Z"/><path fill="#b7b7b7" d="M1185.2 484.1L1861.9 477.4L1861.9 37.4L1342.9 37.4L1306.4 63.9L1286.3 78.0L1245.3 105.2L1194.0 138.4L1185.2 138.4Z"/><path fill="#bcbcbc" d="M1185.2 479.6L1861.9 472.6L1861.9 37.4L1359.1 37.4L1309.9 72.8L1288.9 87.5L1217.0 134.7L1194.0 149.4L1185.2 149.4Z"/><path fill="#c1c1c1" d="M1185.2 475.7L1861.9 468.2L1861.9 37.4L1375.2 37.4L1356.6 50.3L1291.6 96.4L1194.0 160.2L1185.2 160.2Z"/><path fill="#c6c6c6" d="M1185.2 472.1L1861.9 464.2L1861.9 37.4L1391.7 37.4L1358.8 59.3L1288.8 108.2L1194.0 170.5L1185.2 170.5Z"/><path fill="#cbcbcb" d="M1185.2 468.9L1861.9 460.5L1861.9 37.4L1409.2 37.4L1382.9 53.4L1356.6 70.8L1289.6 117.0L1194.0 180.2L1185.2 180.2Z"/><path fill="#cfcfcf" d="M1185.2 465.7L1861.9 457.0L1861.9 37.4L1428.0 37.4L1404.9 50.1L1380.7 64.8L1352.2 83.5L1294.3 122.9L1224.8 168.6L1194.0 189.3L1185.2 189.3Z"/><path fill="#d4d4d4" d="M1185.2 462.6L1861.9 453.5L1861.9 37.4L1447.8 37.4L1429.1 46.9L1411.5 56.4L1393.9 66.5L1376.4 77.3L1354.4 91.5L1294.0 131.7L1229.2 174.2L1194.0 197.8L1185.2 197.8Z"/><path fill="#d9d9d9" d="M1185.2 459.5L1861.9 449.9L1861.9 37.4L1468.1 37.4L1444.5 49.0L1424.7 59.1L1407.1 68.7L1389.5 78.9L1369.8 91.0L1345.6 106.4L1235.7 177.9L1194.0 205.8L1185.2 205.8Z"/><path fill="#dedede" d="M1185.2 456.4L1861.9 446.3L1861.9 37.4L1489.0 37.4L1459.8 51.3L1435.7 63.3L1413.7 74.8L1393.9 85.9L1369.8 100.3L1341.2 118.2L1244.5 180.0L1194.0 213.2L1185.2 213.2Z"/><path fill="#e2e2e2" d="M1185.2 453.1L1861.9 442.4L1861.9 37.4L1510.6 37.4L1478.7 52.1L1448.1 66.9L1420.3 81.1L1398.3 93.0L1372.0 108.3L1339.0 128.4L1251.1 183.5L1194.0 220.2L1185.2 220.2Z"/><path fill="#e6e6e6" d="M1185.2 449.4L1336.2 447.2L1861.9 438.3L1861.9 37.4L1533.7 37.4L1494.6 55.1L1462.0 70.3L1433.1 84.6L1404.8 99.3L1378.4 114.1L1343.4 134.7L1264.3 183.0L1194.0 226.5L1185.2 226.5Z"/><path fill="#eaeaea" d="M1185.2 445.4L1462.0 441.3L1861.9 433.9L1861.9 37.4L1559.1 37.4L1523.6 52.8L1477.4 73.7L1442.3 90.5L1411.5 106.0L1382.9 121.4L1347.8 141.4L1200.0 229.0L1194.0 232.3L1185.2 232.3Z"/><path fill="#eeeeee" d="M1185.2 441.2L1308.2 439.8L1468.6 437.3L1861.9 429.4L1861.9 37.4L1586.0 37.4L1541.1 56.1L1501.6 73.5L1462.0 91.6L1424.7 109.7L1389.5 127.8L1352.2 148.2L1226.5 220.2L1205.3 232.0L1194.0 237.6L1185.2 237.6Z"/><path fill="#f1f1f1" d="M1185.2 437.2L1312.6 435.9L1473.0 433.4L1633.4 430.1L1861.9 424.8L1861.9 37.4L1613.6 37.4L1565.3 56.9L1525.7 73.5L1477.4 94.9L1437.9 113.3L1398.3 132.8L1358.8 153.5L1319.2 175.0L1232.5 223.1L1210.4 234.9L1194.0 242.6L1185.2 242.6Z"/><path fill="#f5f5f5" d="M1185.2 433.5L1336.8 431.9L1490.6 429.3L1651.0 425.7L1853.1 420.4L1861.9 420.4L1861.9 37.4L1641.2 37.4L1585.1 59.3L1541.1 77.3L1495.0 97.0L1453.2 115.8L1409.3 136.5L1363.2 159.6L1317.0 183.8L1238.0 226.1L1215.2 237.9L1202.7 243.8L1194.0 247.3L1185.2 247.3Z"/><path fill="#f9f9f9" d="M1185.2 430.2L1328.0 428.6L1481.8 425.9L1633.4 422.3L1853.1 416.2L1861.9 416.2L1861.9 37.4L1668.8 37.4L1618.0 56.5L1565.3 77.1L1514.8 98.0L1466.4 118.9L1415.9 141.9L1367.6 165.2L1319.2 189.5L1237.1 232.0L1213.3 243.8L1200.6 249.3L1194.0 251.7L1185.2 251.7Z"/><path fill="#fdfdfd" d="M1185.2 427.4L1321.4 425.7L1468.6 422.8L1611.4 419.3L1853.1 412.4L1861.9 412.4L1861.9 37.4L1696.1 37.4L1642.2 56.8L1587.3 77.6L1536.7 97.7L1479.6 121.6L1426.9 144.8L1369.8 171.3L1321.4 194.8L1241.1 234.9L1216.8 246.7L1203.4 252.6L1194.0 255.9L1185.2 255.9Z"/><path fill="#fffdfc" d="M1185.2 424.9L1323.6 422.9L1457.6 420.0L1602.6 416.2L1853.1 408.9L1861.9 408.9L1861.9 37.4L1723.1 37.4L1668.6 56.2L1611.4 77.1L1556.5 98.1L1499.4 121.1L1437.9 147.3L1372.0 176.8L1321.4 200.5L1238.5 240.8L1213.2 252.6L1200.6 257.8L1194.0 260.0L1185.2 260.0Z"/><path fill="#fff8f4" d="M1185.2 422.9L1262.1 421.8L1391.7 418.9L1800.4 407.2L1861.9 405.7L1861.9 37.4L1748.4 37.4L1716.9 47.8L1664.2 65.9L1607.0 86.5L1554.3 106.5L1495.0 130.0L1431.3 156.6L1369.8 183.5L1319.2 206.5L1234.0 246.7L1207.9 258.5L1194.0 263.7L1185.2 263.7Z"/><path fill="#fef4ee" d="M1185.2 421.3L1273.1 419.7L1374.2 417.1L1734.5 405.9L1839.9 403.1L1861.9 402.8L1861.9 37.4L1771.8 37.4L1694.9 62.7L1644.4 80.1L1587.3 100.8L1532.3 121.6L1481.8 141.5L1415.9 168.6L1354.4 195.0L1301.7 218.6L1208.2 261.5L1194.0 267.0L1185.2 267.0Z"/><path fill="#feefe6" d="M1185.2 419.8L1242.3 418.8L1341.2 416.0L1733.4 403.0L1817.9 400.8L1861.9 400.1L1861.9 37.4L1794.0 37.4L1725.7 59.4L1664.2 80.1L1613.6 97.8L1565.3 115.4L1517.0 133.6L1464.2 154.1L1400.5 179.9L1343.4 204.0L1295.1 225.1L1200.6 267.6L1194.0 270.2L1185.2 270.2Z"/><path fill="#feebe0" d="M1185.2 418.5L1231.3 417.5L1314.8 415.0L1602.6 404.4L1697.1 401.2L1789.4 398.7L1861.9 397.5L1861.9 37.4L1815.5 37.4L1719.1 68.2L1631.2 98.0L1580.7 115.9L1532.3 133.6L1486.2 150.9L1440.1 168.8L1380.7 192.5L1323.6 216.2L1275.3 237.0L1194.0 273.2L1185.2 273.2Z"/><path fill="#fee6d8" d="M1185.2 417.1L1235.7 416.0L1319.2 413.1L1569.7 402.9L1677.3 399.0L1776.2 396.2L1861.9 395.0L1861.9 37.4L1836.5 37.4L1771.8 57.7L1708.1 78.4L1642.2 100.6L1582.9 121.2L1525.7 141.7L1475.2 160.3L1422.5 180.4L1369.8 201.1L1323.6 219.8L1281.9 237.2L1240.1 255.3L1194.0 276.1L1185.2 276.1Z"/><path fill="#fde2d2" d="M1185.2 415.8L1228.2 414.8L1308.8 411.8L1567.5 400.5L1666.4 396.6L1769.6 393.7L1861.9 392.5L1861.9 38.8L1853.1 38.8L1754.6 69.8L1646.6 105.4L1589.5 124.9L1536.7 143.3L1486.2 161.5L1431.3 181.7L1385.1 199.2L1339.0 217.2L1295.1 234.9L1259.7 249.7L1219.1 267.4L1194.0 279.0L1185.2 279.0Z"/><path fill="#fdddca" d="M1185.2 414.4L1194.0 414.4L1237.9 412.8L1310.4 409.9L1554.3 398.5L1661.8 394.1L1767.4 391.1L1815.8 390.3L1861.9 390.1L1861.9 45.5L1853.1 45.5L1757.0 75.7L1630.8 117.0L1518.8 155.3L1419.9 190.7L1372.2 208.4L1326.0 226.1L1281.3 243.8L1245.7 258.5L1212.1 273.2L1194.0 282.0L1185.2 282.0Z"/><path fill="#fcd8c3" d="M1185.2 412.8L1194.0 412.8L1222.6 411.8L1293.7 408.9L1532.2 397.1L1659.8 391.6L1767.4 388.5L1815.8 387.8L1861.9 387.7L1861.9 52.5L1853.1 52.5L1769.6 78.7L1632.5 122.9L1509.6 164.2L1400.5 202.5L1312.9 234.9L1275.0 249.7L1238.9 264.4L1212.0 276.2L1194.0 285.0L1185.2 285.0Z"/><path fill="#fbd1ba" d="M1185.2 411.1L1194.0 411.1L1290.7 407.1L1543.1 394.1L1651.0 389.4L1705.9 387.5L1763.0 386.1L1813.6 385.4L1861.9 385.3L1861.9 60.1L1853.1 60.1L1764.7 87.5L1625.7 131.7L1491.8 176.0L1389.1 211.3L1339.8 229.0L1299.9 243.8L1261.7 258.5L1232.7 270.3L1211.6 279.5L1194.0 288.3L1185.2 288.3Z"/><path fill="#facab1" d="M1185.2 409.3L1205.6 408.9L1279.7 405.6L1543.3 391.8L1644.4 387.2L1701.5 385.2L1758.6 383.9L1809.2 383.2L1861.9 383.2L1861.9 67.8L1853.1 67.8L1769.7 93.4L1615.8 141.6L1477.4 186.5L1369.8 222.9L1327.2 237.9L1286.8 252.6L1255.5 264.5L1226.8 276.2L1207.0 285.0L1194.0 291.9L1185.2 291.9Z"/><path fill="#f9c3a9" d="M1185.2 407.4L1209.4 406.8L1284.1 403.4L1530.1 390.2L1642.2 385.0L1701.5 382.9L1756.4 381.6L1807.0 381.0L1861.9 381.1L1861.9 75.8L1853.1 75.8L1771.8 100.3L1607.0 151.0L1532.3 174.5L1459.8 197.8L1361.0 230.6L1317.0 245.8L1279.7 259.2L1248.9 270.8L1224.8 280.6L1207.2 288.4L1194.0 295.5L1185.2 295.5Z"/><path fill="#f8bda0" d="M1185.2 405.5L1202.8 405.2L1277.5 401.8L1532.3 387.8L1642.2 382.7L1701.5 380.7L1756.4 379.4L1807.0 378.9L1861.9 379.0L1861.9 83.8L1853.1 83.8L1776.2 106.6L1600.4 159.5L1523.6 183.2L1448.9 206.7L1350.0 238.8L1306.0 253.8L1273.1 265.5L1242.3 277.0L1220.4 286.0L1205.0 293.0L1194.0 299.0L1185.2 299.0Z"/><path fill="#f7b698" d="M1185.2 403.5L1205.0 403.1L1275.3 399.8L1527.9 385.8L1640.0 380.5L1699.3 378.4L1754.2 377.2L1804.8 376.7L1861.9 376.9L1861.9 91.8L1853.1 91.8L1780.6 112.8L1591.7 168.4L1446.7 212.5L1352.2 242.6L1310.4 256.4L1275.3 268.5L1244.5 279.8L1222.6 288.5L1207.2 295.2L1194.0 302.2L1185.2 302.2Z"/><path fill="#f6af8f" d="M1185.2 401.6L1205.0 401.1L1277.5 397.7L1525.7 383.6L1640.0 378.1L1701.5 376.1L1754.2 374.9L1804.8 374.5L1861.9 374.7L1861.9 99.6L1853.1 99.6L1776.2 121.3L1591.7 174.4L1442.3 218.9L1347.8 248.3L1310.4 260.4L1275.3 272.3L1244.5 283.3L1222.6 291.8L1207.2 298.4L1194.0 305.2L1185.2 305.2Z"/><path fill="#f5a886" d="M1185.2 399.6L1205.0 399.1L1277.5 395.7L1532.3 380.9L1644.4 375.6L1697.1 373.8L1756.4 372.4L1804.8 372.1L1861.9 372.4L1861.9 107.2L1853.1 107.2L1769.6 130.2L1591.7 180.2L1448.9 221.6L1352.2 251.0L1314.8 262.8L1277.5 275.1L1244.5 286.6L1222.6 294.9L1207.2 301.3L1194.0 307.8L1185.2 307.8Z"/><path fill="#f2a17f" d="M1185.2 397.6L1205.0 397.1L1275.3 393.7L1538.9 378.2L1646.6 372.9L1701.5 371.0L1758.6 369.8L1807.0 369.5L1861.9 369.9L1861.9 114.5L1853.1 114.5L1771.8 136.3L1600.4 183.2L1455.4 224.3L1354.4 254.2L1279.7 277.8L1251.1 287.4L1227.0 296.1L1207.2 304.0L1194.0 310.2L1185.2 310.2Z"/><path fill="#ee9878" d="M1185.2 395.6L1194.0 395.6L1285.0 391.2L1538.9 375.7L1646.6 370.3L1703.7 368.2L1758.6 367.0L1807.0 366.7L1861.9 367.1L1861.9 121.6L1853.1 121.6L1763.0 145.1L1609.2 186.1L1470.8 224.3L1367.6 254.1L1290.7 277.6L1255.5 289.0L1229.2 298.1L1207.2 306.4L1194.0 312.2L1185.2 312.2Z"/><path fill="#eb8f71" d="M1185.2 393.5L1194.0 393.5L1290.7 388.8L1543.3 372.9L1648.8 367.4L1703.7 365.4L1758.6 364.1L1807.0 363.7L1861.9 364.1L1861.9 128.5L1853.1 128.5L1765.2 150.7L1626.8 186.5L1497.2 221.3L1391.7 250.9L1301.7 277.5L1264.3 289.2L1235.7 298.5L1211.6 307.0L1194.0 313.9L1185.2 313.9Z"/><path fill="#e7876b" d="M1185.2 391.4L1194.0 391.4L1220.4 390.3L1292.9 386.5L1547.7 370.0L1604.8 366.7L1653.2 364.4L1708.1 362.3L1760.8 361.0L1807.0 360.6L1861.9 360.9L1861.9 135.3L1853.1 135.3L1776.2 154.0L1646.6 186.4L1523.6 218.5L1415.9 247.8L1323.6 274.3L1244.5 298.4L1216.0 307.7L1194.0 315.5L1185.2 315.5Z"/><path fill="#e37e64" d="M1185.2 389.3L1194.0 389.3L1227.0 387.9L1299.5 384.0L1365.4 379.8L1552.1 367.1L1607.0 363.8L1655.4 361.3L1710.3 359.1L1763.0 357.8L1809.2 357.3L1861.9 357.6L1861.9 141.9L1853.1 141.9L1776.2 159.9L1655.4 189.2L1549.9 215.9L1448.9 242.6L1354.4 268.7L1264.3 295.1L1194.0 317.0L1185.2 317.0Z"/><path fill="#df765e" d="M1185.2 387.2L1194.0 387.2L1229.2 385.7L1306.0 381.5L1372.0 377.2L1556.5 364.1L1611.4 360.7L1659.8 358.1L1712.5 355.9L1765.2 354.4L1811.4 353.9L1861.9 354.2L1861.9 148.4L1853.1 148.4L1776.2 165.7L1664.2 191.9L1565.3 216.2L1464.2 242.2L1376.4 265.9L1292.9 289.5L1194.0 318.5L1185.2 318.5Z"/><path fill="#dc6d57" d="M1185.2 385.1L1194.0 385.1L1233.5 383.5L1312.6 379.0L1378.5 374.5L1563.1 360.9L1615.8 357.5L1664.2 354.8L1716.9 352.5L1765.2 351.0L1811.4 350.4L1861.9 350.5L1861.9 154.8L1853.1 154.8L1774.0 171.9L1670.7 195.2L1571.9 218.7L1488.4 239.6L1398.3 263.2L1323.6 283.6L1203.6 317.5L1194.0 319.9L1185.2 319.9Z"/><path fill="#d86450" d="M1185.2 383.2L1194.0 383.2L1235.7 381.4L1310.4 377.1L1382.9 372.0L1569.7 357.7L1668.6 351.4L1719.1 349.0L1767.4 347.4L1813.6 346.7L1861.9 346.7L1861.9 161.0L1853.1 161.0L1771.8 177.9L1677.3 198.4L1578.5 221.2L1492.8 242.1L1411.5 262.9L1334.6 283.4L1210.4 317.5L1194.0 321.3L1185.2 321.3Z"/><path fill="#d45c4b" d="M1185.2 381.3L1198.4 381.1L1244.5 379.0L1314.8 374.8L1389.5 369.3L1576.3 354.5L1672.9 348.0L1723.5 345.5L1771.8 343.7L1815.8 342.8L1861.9 342.7L1861.9 167.1L1853.1 167.1L1771.8 183.2L1675.1 203.6L1582.9 224.2L1495.0 245.0L1413.7 265.3L1345.6 283.1L1217.6 317.5L1205.4 320.4L1194.0 322.7L1185.2 322.7Z"/><path fill="#cf5247" d="M1185.2 379.5L1194.0 379.5L1237.9 377.5L1323.6 372.2L1400.5 366.3L1580.7 351.4L1633.4 347.4L1679.5 344.4L1730.1 341.7L1776.2 339.9L1820.1 338.9L1861.9 338.6L1861.9 172.8L1853.1 172.8L1765.2 189.6L1679.5 207.0L1585.1 227.5L1506.0 245.6L1422.5 265.9L1352.2 283.8L1247.4 311.6L1212.5 320.4L1194.0 324.2L1185.2 324.2Z"/><path fill="#cb4a42" d="M1185.2 377.9L1198.4 377.7L1246.7 375.3L1330.2 369.8L1409.3 363.4L1587.3 348.1L1686.1 340.8L1734.5 338.0L1778.4 336.0L1822.3 334.8L1861.9 334.3L1861.9 178.2L1853.1 178.2L1760.8 195.1L1670.7 212.9L1585.1 230.9L1506.0 248.6L1420.3 268.9L1350.0 286.5L1219.2 320.4L1206.3 323.4L1194.0 325.6L1185.2 325.6Z"/><path fill="#c6403e" d="M1185.2 376.3L1194.0 376.3L1242.3 373.9L1284.1 371.3L1330.2 367.9L1405.3 361.7L1596.1 344.6L1692.7 337.1L1741.1 334.1L1785.0 331.9L1828.9 330.4L1861.9 329.9L1861.9 183.4L1853.1 183.4L1752.0 201.2L1662.0 218.5L1576.3 236.1L1492.8 254.4L1415.9 272.4L1345.6 289.7L1237.4 317.5L1213.0 323.4L1200.6 325.9L1194.0 326.9L1185.2 326.9Z"/><path fill="#c2383a" d="M1185.2 374.7L1198.4 374.5L1248.9 371.8L1292.9 368.9L1339.0 365.3L1415.0 358.7L1611.4 340.4L1699.3 333.2L1745.4 330.1L1789.4 327.6L1835.5 325.8L1861.9 325.3L1861.9 188.5L1853.1 188.5L1800.4 197.2L1743.2 207.1L1657.6 223.0L1571.9 240.1L1488.4 258.1L1411.5 275.7L1341.2 292.7L1218.2 323.6L1205.9 326.3L1194.0 328.3L1185.2 328.3Z"/><path fill="#bd2e36" d="M1185.2 373.1L1194.0 373.1L1248.9 370.1L1288.5 367.4L1345.6 362.9L1423.6 355.8L1618.0 336.8L1714.7 328.5L1760.8 325.2L1800.4 322.8L1844.3 320.8L1861.9 320.5L1861.9 193.7L1853.1 193.7L1797.1 202.5L1744.0 211.3L1661.2 226.1L1569.6 243.8L1485.1 261.5L1406.2 279.1L1344.2 293.9L1237.6 320.4L1213.8 326.0L1196.2 329.4L1185.2 329.7Z"/><path fill="#b92631" d="M1185.2 371.5L1200.6 371.2L1251.1 368.2L1336.5 361.7L1430.9 352.8L1622.4 333.2L1719.1 324.3L1800.4 318.3L1850.9 315.5L1861.9 315.4L1861.9 199.0L1853.1 199.0L1790.7 208.4L1735.6 217.2L1650.1 232.0L1571.3 246.7L1484.1 264.4L1403.3 282.1L1340.1 296.8L1240.1 321.3L1213.8 327.4L1194.0 331.0L1185.2 331.0Z"/><path fill="#b41c2d" d="M1185.2 369.8L1194.0 369.8L1248.9 366.5L1301.7 362.6L1346.5 358.7L1436.4 349.9L1613.6 330.8L1701.5 321.9L1758.6 316.8L1800.4 313.5L1853.1 310.1L1861.9 310.1L1861.9 204.7L1853.1 204.7L1785.9 214.3L1728.4 223.1L1639.8 237.9L1558.9 252.6L1484.1 267.4L1400.9 285.0L1336.2 299.8L1213.8 328.8L1202.8 331.0L1194.0 332.4L1185.2 332.4Z"/><path fill="#ad162a" d="M1185.2 368.0L1201.9 367.6L1251.1 364.5L1292.9 361.3L1354.1 355.8L1439.7 346.9L1635.6 324.7L1716.9 316.1L1760.8 311.9L1811.4 307.5L1853.1 304.5L1861.9 304.5L1861.9 211.0L1853.1 211.0L1785.0 220.2L1724.6 229.0L1649.9 240.8L1564.5 255.6L1486.2 270.3L1399.9 288.0L1332.4 302.8L1231.3 326.3L1207.2 331.5L1194.0 333.7L1185.2 333.7Z"/><path fill="#a41429" d="M1185.2 366.0L1194.0 366.0L1261.1 361.7L1297.2 358.7L1359.6 352.8L1440.8 344.0L1646.6 319.3L1723.5 310.7L1767.4 306.2L1815.8 301.8L1853.1 298.8L1861.9 298.8L1861.9 217.8L1853.1 217.8L1788.5 226.1L1724.7 234.9L1646.2 246.7L1556.8 261.5L1475.2 276.2L1400.1 290.9L1330.2 305.6L1207.2 332.8L1194.0 335.1L1185.2 335.1Z"/><path fill="#9b1027" d="M1185.2 363.9L1194.0 363.9L1216.0 362.7L1270.6 358.7L1304.4 355.8L1363.2 349.9L1464.3 338.1L1635.6 316.2L1712.5 306.9L1765.2 301.1L1815.8 296.1L1853.1 292.9L1861.9 292.9L1861.9 224.9L1853.1 224.9L1728.5 240.8L1645.5 252.6L1551.0 267.4L1465.0 282.1L1386.1 296.8L1312.9 311.6L1209.4 333.7L1194.0 336.5L1185.2 336.5Z"/><path fill="#910e26" d="M1185.2 361.7L1194.0 361.7L1240.1 358.7L1276.0 355.8L1308.2 352.8L1363.4 346.9L1459.2 335.2L1644.4 309.8L1732.3 298.4L1813.6 289.2L1853.1 285.5L1861.9 285.5L1861.9 233.9L1853.1 233.9L1720.8 249.7L1632.2 261.5L1531.7 276.2L1458.2 288.0L1390.0 299.8L1310.9 314.5L1200.6 336.7L1194.0 337.9L1185.2 337.9Z"/><path fill="#880a24" d="M1185.2 359.2L1194.0 359.2L1218.2 357.7L1273.1 353.3L1330.2 347.5L1400.5 339.1L1464.2 330.5L1527.9 321.3L1853.1 271.8L1861.9 271.8L1861.9 248.3L1853.1 248.3L1831.8 249.7L1776.2 254.3L1710.3 261.0L1654.7 267.4L1585.1 276.1L1519.2 285.0L1457.6 294.0L1382.9 305.7L1297.3 320.3L1194.0 339.2L1185.2 339.2Z"/><path fill="#7e0823" d="M1185.2 356.9L1194.0 356.9L1235.7 353.9L1273.1 350.6L1306.0 347.2L1382.2 338.1L1445.8 329.3L1504.0 320.4L1558.6 311.6L1610.4 302.7L1659.2 293.9L1689.1 288.0L1715.2 282.1L1719.1 280.7L1725.3 279.1L1727.9 276.9L1729.4 276.2L1723.5 275.1L1716.9 274.7L1705.9 274.8L1675.6 276.2L1644.4 278.7L1609.3 282.1L1555.5 288.0L1483.5 296.8L1417.7 305.7L1356.4 314.5L1280.4 326.3L1194.0 340.5L1185.2 340.5Z"/><path fill="#750421" d="M1185.2 354.4L1194.0 354.4L1216.6 352.8L1281.0 346.9L1332.4 341.1L1397.7 332.2L1436.4 326.3L1472.0 320.4L1519.8 311.6L1525.7 310.0L1533.5 308.6L1538.9 306.8L1544.9 305.7L1545.5 303.3L1546.0 302.7L1534.5 302.3L1517.0 302.9L1481.2 305.7L1423.6 311.6L1373.3 317.5L1326.7 323.4L1261.6 332.2L1194.0 342.0L1185.2 342.0Z"/><path fill="#6c0220" d="M1185.2 351.5L1194.0 351.5L1216.4 349.9L1275.1 344.0L1299.3 341.1L1341.0 335.2L1347.8 333.6L1358.3 332.2L1361.0 330.9L1363.2 330.3L1371.2 329.3L1367.6 328.4L1358.8 328.1L1330.9 329.3L1267.6 335.2L1194.0 343.5L1185.2 343.5Z"/></g>
<path d="M1193.9 346.2 L1227.6 339.2 L1249.8 334.1 L1259.2 332.9 L1281.5 329.3 L1292.2 328.6 L1306.2 326.4 L1314.8 324.4 L1325.0 322.1 L1348.1 319.2 L1358.4 317.9 L1381.1 314.8 L1391.4 313.1 L1414.8 312.2 L1423.3 311.5 L1446.4 307.9 L1456.7 307.1 L1479.7 304.2 L1490.0 302.5 L1513.1 302.1 L1523.4 300.9 L1547.0 297.8 L1556.4 295.9 L1579.0 295.4 L1588.9 294.7 L1612.3 293.3 L1622.2 293.0 L1646.2 289.6 L1655.6 288.4 L1679.0 288.2 L1688.9 286.5 L1712.3 286.2 L1721.7 285.0 L1744.8 283.6 L1755.0 282.7 L1778.1 281.0 L1788.4 281.0 L1811.5 279.0 L1821.7 279.4 L1841.4 276.4 L1853.1 275.0" fill="none" stroke="#ffd700" stroke-width="3.6" stroke-dasharray="23.3 9.9" clip-path="url(#cbp)"/>
<g stroke="#000" fill="none" stroke-width="2">
<rect x="1194.00" y="49.20" width="659.10" height="589.60"/>
<path d="M1413.7 638.8v-6.8M1413.7 49.2v6.8M1633.4 638.8v-6.8M1633.4 49.2v6.8M1194.0 492.0h6.8M1853.1 492.0h-6.8M1194.0 344.6h6.8M1853.1 344.6h-6.8M1194.0 197.2h6.8M1853.1 197.2h-6.8" stroke-width="1.5"/>
</g>
<g stroke="#000" stroke-width="1.9">
<circle cx="1216.1" cy="337.9" r="10.9" fill="#00ced1"/>
<path d="M1216.1 340.7L1205.2 362.5L1227 362.5Z" fill="#32cd32"/>
<rect x="1271.2" y="334.1" width="21.8" height="21.8" fill="#ee82ee"/>
</g>
<g shape-rendering="crispEdges"><rect x="1866.85" y="64.70" width="29.05" height="560.90" fill="#1d1d1d"/><rect x="1866.85" y="64.70" width="29.05" height="551.14" fill="#242424"/><rect x="1866.85" y="64.70" width="29.05" height="544.18" fill="#2a2a2a"/><rect x="1866.85" y="64.70" width="29.05" height="537.22" fill="#303030"/><rect x="1866.85" y="64.70" width="29.05" height="530.26" fill="#373737"/><rect x="1866.85" y="64.70" width="29.05" height="523.30" fill="#3d3d3d"/><rect x="1866.85" y="64.70" width="29.05" height="516.34" fill="#434343"/><rect x="1866.85" y="64.70" width="29.05" height="509.38" fill="#4a4a4a"/><rect x="1866.85" y="64.70" width="29.05" height="502.42" fill="#515151"/><rect x="1866.85" y="64.70" width="29.05" height="495.46" fill="#585858"/><rect x="1866.85" y="64.70" width="29.05" height="488.50" fill="#5f5f5f"/><rect x="1866.85" y="64.70" width="29.05" height="481.54" fill="#666666"/><rect x="1866.85" y="64.70" width="29.05" height="474.58" fill="#6e6e6e"/><rect x="1866.85" y="64.70" width="29.05" height="467.62" fill="#757575"/><rect x="1866.85" y="64.70" width="29.05" height="460.66" fill="#7c7c7c"/><rect x="1866.85" y="64.70" width="29.05" height="453.70" fill="#838383"/><rect x="1866.85" y="64.70" width="29.05" height="446.74" fill="#8a8a8a"/><rect x="1866.85" y="64.70" width="29.05" height="439.78" fill="#919191"/><rect x="1866.85" y="64.70" width="29.05" height="432.82" fill="#979797"/><rect x="1866.85" y="64.70" width="29.05" height="425.86" fill="#9d9d9d"/><rect x="1866.85" y="64.70" width="29.05" height="418.90" fill="#a4a4a4"/><rect x="1866.85" y="64.70" width="29.05" height="411.94" fill="#aaaaaa"/><rect x="1866.85" y="64.70" width="29.05" height="404.98" fill="#b0b0b0"/><rect x="1866.85" y="64.70" width="29.05" height="398.02" fill="#b7b7b7"/><rect x="1866.85" y="64.70" width="29.05" height="391.06" fill="#bcbcbc"/><rect x="1866.85" y="64.70" width="29.05" height="384.10" fill="#c1c1c1"/><rect x="1866.85" y="64.70" width="29.05" height="377.14" fill="#c6c6c6"/><rect x="1866.85" y="64.70" width="29.05" height="370.18" fill="#cbcbcb"/><rect x="1866.85" y="64.70" width="29.05" height="363.22" fill="#cfcfcf"/><rect x="1866.85" y="64.70" width="29.05" height="356.26" fill="#d4d4d4"/><rect x="1866.85" y="64.70" width="29.05" height="349.30" fill="#d9d9d9"/><rect x="1866.85" y="64.70" width="29.05" height="342.34" fill="#dedede"/><rect x="1866.85" y="64.70" width="29.05" height="335.38" fill="#e2e2e2"/><rect x="1866.85" y="64.70" width="29.05" height="328.42" fill="#e6e6e6"/><rect x="1866.85" y="64.70" width="29.05" height="321.46" fill="#eaeaea"/><rect x="1866.85" y="64.70" width="29.05" height="314.50" fill="#eeeeee"/><rect x="1866.85" y="64.70" width="29.05" height="307.54" fill="#f1f1f1"/><rect x="1866.85" y="64.70" width="29.05" height="300.58" fill="#f5f5f5"/><rect x="1866.85" y="64.70" width="29.05" height="293.62" fill="#f9f9f9"/><rect x="1866.85" y="64.70" width="29.05" height="286.66" fill="#fdfdfd"/><rect x="1866.85" y="64.70" width="29.05" height="279.70" fill="#fffdfc"/><rect x="1866.85" y="64.70" width="29.05" height="272.74" fill="#fff8f4"/><rect x="1866.85" y="64.70" width="29.05" height="265.78" fill="#fef4ee"/><rect x="1866.85" y="64.70" width="29.05" height="258.82" fill="#feefe6"/><rect x="1866.85" y="64.70" width="29.05" height="251.86" fill="#feebe0"/><rect x="1866.85" y="64.70" width="29.05" height="244.90" fill="#fee6d8"/><rect x="1866.85" y="64.70" width="29.05" height="237.94" fill="#fde2d2"/><rect x="1866.85" y="64.70" width="29.05" height="230.98" fill="#fdddca"/><rect x="1866.85" y="64.70" width="29.05" height="224.02" fill="#fcd8c3"/><rect x="1866.85" y="64.70" width="29.05" height="217.06" fill="#fbd1ba"/><rect x="1866.85" y="64.70" width="29.05" height="210.10" fill="#facab1"/><rect x="1866.85" y="64.70" width="29.05" height="203.14" fill="#f9c3a9"/><rect x="1866.85" y="64.70" width="29.05" height="196.18" fill="#f8bda0"/><rect x="1866.85" y="64.70" width="29.05" height="189.22" fill="#f7b698"/><rect x="1866.85" y="64.70" width="29.05" height="182.26" fill="#f6af8f"/><rect x="1866.85" y="64.70" width="29.05" height="175.30" fill="#f5a886"/><rect x="1866.85" y="64.70" width="29.05" height="168.34" fill="#f2a17f"/><rect x="1866.85" y="64.70" width="29.05" height="161.38" fill="#ee9878"/><rect x="1866.85" y="64.70" width="29.05" height="154.42" fill="#eb8f71"/><rect x="1866.85" y="64.70" width="29.05" height="147.46" fill="#e7876b"/><rect x="1866.85" y="64.70" width="29.05" height="140.50" fill="#e37e64"/><rect x="1866.85" y="64.70" width="29.05" height="133.54" fill="#df765e"/><rect x="1866.85" y="64.70" width="29.05" height="126.58" fill="#dc6d57"/><rect x="1866.85" y="64.70" width="29.05" height="119.62" fill="#d86450"/><rect x="1866.85" y="64.70" width="29.05" height="112.66" fill="#d45c4b"/><rect x="1866.85" y="64.70" width="29.05" height="105.70" fill="#cf5247"/><rect x="1866.85" y="64.70" width="29.05" height="98.74" fill="#cb4a42"/><rect x="1866.85" y="64.70" width="29.05" height="91.78" fill="#c6403e"/><rect x="1866.85" y="64.70" width="29.05" height="84.82" fill="#c2383a"/><rect x="1866.85" y="64.70" width="29.05" height="77.86" fill="#bd2e36"/><rect x="1866.85" y="64.70" width="29.05" height="70.90" fill="#b92631"/><rect x="1866.85" y="64.70" width="29.05" height="63.94" fill="#b41c2d"/><rect x="1866.85" y="64.70" width="29.05" height="56.98" fill="#ad162a"/><rect x="1866.85" y="64.70" width="29.05" height="50.02" fill="#a41429"/><rect x="1866.85" y="64.70" width="29.05" height="43.06" fill="#9b1027"/><rect x="1866.85" y="64.70" width="29.05" height="36.10" fill="#910e26"/><rect x="1866.85" y="64.70" width="29.05" height="29.14" fill="#880a24"/><rect x="1866.85" y="64.70" width="29.05" height="22.18" fill="#7e0823"/><rect x="1866.85" y="64.70" width="29.05" height="15.22" fill="#750421"/><rect x="1866.85" y="64.70" width="29.05" height="8.26" fill="#6c0220"/></g>
<rect x="1866.85" y="64.70" width="29.05" height="560.90" fill="none" stroke="#000" stroke-width="1.6"/>
<path d="M1895.9 66.0h7M1895.9 251.6h7M1895.9 437.2h7M1895.9 622.8h7" stroke="#000" stroke-width="1.6"/>
<g fill="#000">
<text transform="matrix(0.4096 0 0 0.4199 1908.96 79.36)" font-family="'Liberation Serif',serif" font-size="100">2500</text>
<text transform="matrix(0.4126 0 0 0.4199 1908.39 264.96)" font-family="'Liberation Serif',serif" font-size="100">1750</text>
<text transform="matrix(0.4126 0 0 0.4199 1908.39 450.56)" font-family="'Liberation Serif',serif" font-size="100">1000</text>
<text transform="matrix(0.4077 0 0 0.4199 1908.97 636.16)" font-family="'Liberation Serif',serif" font-size="100">250</text>
<text transform="matrix(0.4268 0 0 0.4368 1163.76 685.83)" font-family="'Liberation Serif',serif" font-size="100">1.0</text>
<text transform="matrix(0.4179 0 0 0.4433 1383.04 686.26)" font-family="'Liberation Serif',serif" font-size="100">1.5</text>
<text transform="matrix(0.4094 0 0 0.4368 1604.06 685.83)" font-family="'Liberation Serif',serif" font-size="100">2.0</text>
<text transform="matrix(0.4094 0 0 0.4433 1824.86 686.26)" font-family="'Liberation Serif',serif" font-size="100">2.5</text>
<text transform="matrix(0.4136 0 0 0.4426 1101.08 64.01)" font-family="'Liberation Serif',serif" font-size="100">1.50</text>
<text transform="matrix(0.4136 0 0 0.4493 1101.08 211.95)" font-family="'Liberation Serif',serif" font-size="100">1.25</text>
<text transform="matrix(0.4136 0 0 0.4397 1100.98 359.32)" font-family="'Liberation Serif',serif" font-size="100">1.00</text>
<text transform="matrix(0.4162 0 0 0.4309 1102.84 506.64)" font-family="'Liberation Serif',serif" font-size="100">0.75</text>
<text transform="matrix(0.4162 0 0 0.4309 1102.84 654.14)" font-family="'Liberation Serif',serif" font-size="100">0.50</text>
<text transform="matrix(0.4845 0 0 0.4136 1860.30 30.19)" font-family="'Liberation Serif',serif" font-size="100" font-style="italic">Re</text>
</g>
</svg>
</body></html>
